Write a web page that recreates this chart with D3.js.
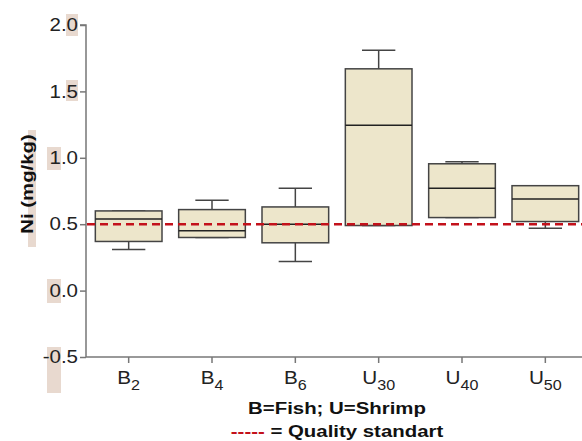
<!DOCTYPE html>
<html>
<head>
<meta charset="utf-8">
<title>Ni box plot</title>
<script src="https://d3js.org/d3.v7.min.js"></script>
<style>
  body { margin: 0; background: #fff; }
  text { font-family: "Liberation Sans", Arial, Helvetica, sans-serif; }
</style>
</head>
<body>
<svg width="582" height="441"></svg>
<script>
// data
var groups   = ["B", "B", "B", "U", "U", "U"];
var subs     = ["2", "4", "6", "30", "40", "50"];
var mins     = [0.31, 0.40, 0.22, 0.49, 0.55, 0.47];
var q1s      = [0.37, 0.40, 0.36, 0.49, 0.55, 0.52];
var medians  = [0.54, 0.45, 0.50, 1.245, 0.77, 0.69];
var q3s      = [0.60, 0.61, 0.63, 1.67, 0.955, 0.79];
var maxs     = [0.60, 0.68, 0.77, 1.81, 0.97, 0.79];
var yTicks   = [-0.5, 0, 0.5, 1.0, 1.5, 2.0];
var standard = 0.5;

var svg = d3.select("svg");
var W = 582;
var sx = 1.2; // the original lettering is a bit wider than Arial

var y = d3.scaleLinear().domain([-0.5, 2.0]).range([357, 25]);
var x = d3.scaleBand().domain(d3.range(groups.length)).range([87, 587]);
var boxW = x.bandwidth() * 0.8;
var cx = function(i){ return x(i) + x.bandwidth() / 2; };

// odd highlight patches behind some labels in the original
var hl = [[66, 14, 12, 22], [66, 80, 12, 21], [47, 147, 14, 23], [47, 279, 14, 24], [47, 347, 14, 46], [28, 130, 8, 117]];
svg.selectAll("rect.hl").data(hl).enter().append("rect")
  .attr("class", "hl")
  .attr("x", function(d){ return d[0]; })
  .attr("y", function(d){ return d[1]; })
  .attr("width", function(d){ return d[2]; })
  .attr("height", function(d){ return d[3]; })
  .style("fill", "#e8d9cf");

// y axis
var yAxis = svg.append("g").attr("transform", "translate(86,0)")
  .call(d3.axisLeft(y).tickValues(yTicks).tickSize(6).tickPadding(1)
    .tickFormat(function(d){ return d3.format(".1f")(d).replace("\u2212", "-"); }));
yAxis.select(".domain").attr("d", "M-6," + y(2) + "H0V" + y(-0.5));
yAxis.selectAll("path, line").style("stroke", "#777").style("stroke-width", 1.5);
yAxis.selectAll("text").style("font-size", "18px").style("fill", "#222")
  .attr("transform", "scale(1.14,1)")
  .style("font-family", "'Liberation Sans', Arial, sans-serif");

// x axis
var xAxis = svg.append("g").attr("transform", "translate(0,357)");
xAxis.append("line").attr("x1", 86).attr("x2", W).attr("y1", 0).attr("y2", 0)
  .style("stroke", "#777").style("stroke-width", 1.5);
xAxis.selectAll("line.tick").data(d3.range(groups.length)).enter().append("line")
  .attr("class", "tick")
  .attr("x1", cx).attr("x2", cx)
  .attr("y1", 0).attr("y2", 6)
  .style("stroke", "#777").style("stroke-width", 1.5);
var xl = xAxis.selectAll("text.lab").data(d3.range(groups.length)).enter().append("text")
  .attr("class", "lab")
  .attr("transform", function(i){ return "translate(" + cx(i) + ",27) scale(1.15,1)"; })
  .attr("text-anchor", "middle")
  .style("font-size", "18px").style("fill", "#222");
xl.append("tspan").text(function(i){ return groups[i]; });
xl.append("tspan").attr("dy", 6).style("font-size", "14px").text(function(i){ return subs[i]; });

// boxes
var box = svg.selectAll("g.box").data(d3.range(groups.length)).enter().append("g").attr("class", "box");
var stroke = "#444";

box.append("line")
  .attr("x1", cx).attr("x2", cx)
  .attr("y1", function(i){ return y(q3s[i]); }).attr("y2", function(i){ return y(maxs[i]); })
  .style("stroke", stroke).style("stroke-width", 1.5);
box.append("line")
  .attr("x1", cx).attr("x2", cx)
  .attr("y1", function(i){ return y(q1s[i]); }).attr("y2", function(i){ return y(mins[i]); })
  .style("stroke", stroke).style("stroke-width", 1.5);
box.append("line")
  .attr("x1", function(i){ return cx(i) - boxW / 4; }).attr("x2", function(i){ return cx(i) + boxW / 4; })
  .attr("y1", function(i){ return y(maxs[i]); }).attr("y2", function(i){ return y(maxs[i]); })
  .style("stroke", stroke).style("stroke-width", 1.5);
box.append("line")
  .attr("x1", function(i){ return cx(i) - boxW / 4; }).attr("x2", function(i){ return cx(i) + boxW / 4; })
  .attr("y1", function(i){ return y(mins[i]); }).attr("y2", function(i){ return y(mins[i]); })
  .style("stroke", stroke).style("stroke-width", 1.5);
box.append("rect")
  .attr("x", function(i){ return cx(i) - boxW / 2; })
  .attr("y", function(i){ return y(q3s[i]); })
  .attr("width", boxW)
  .attr("height", function(i){ return y(q1s[i]) - y(q3s[i]); })
  .style("fill", "#ede6cb").style("stroke", stroke).style("stroke-width", 1.5);
box.append("line")
  .attr("x1", function(i){ return cx(i) - boxW / 2; }).attr("x2", function(i){ return cx(i) + boxW / 2; })
  .attr("y1", function(i){ return y(medians[i]); }).attr("y2", function(i){ return y(medians[i]); })
  .style("stroke", "#222").style("stroke-width", 1.5);

// quality standard line
svg.append("line")
  .attr("x1", 87).attr("x2", W)
  .attr("y1", y(standard)).attr("y2", y(standard))
  .style("stroke", "#c3111b").style("stroke-width", 2.5).style("stroke-dasharray", "8,5");

// axis title
svg.append("text")
  .attr("transform", "translate(33,184) rotate(-90) scale(" + sx + ",1)")
  .attr("text-anchor", "middle")
  .style("font-size", "17px").style("font-weight", "bold").style("fill", "#111")
  .text("Ni (mg/kg)");

// captions
svg.append("text")
  .attr("transform", "translate(337,414) scale(" + sx + ",1)")
  .attr("text-anchor", "middle")
  .style("font-size", "17px").style("font-weight", "bold").style("fill", "#111")
  .text("B=Fish; U=Shrimp");
var cap = svg.append("text")
  .attr("transform", "translate(337,437) scale(" + sx + ",1)")
  .attr("text-anchor", "middle")
  .style("font-size", "17px").style("font-weight", "bold").style("fill", "#111");
cap.append("tspan").style("fill", "#c3111b").text("-----");
cap.append("tspan").text(" = Quality standart");
</script>
</body>
</html>
